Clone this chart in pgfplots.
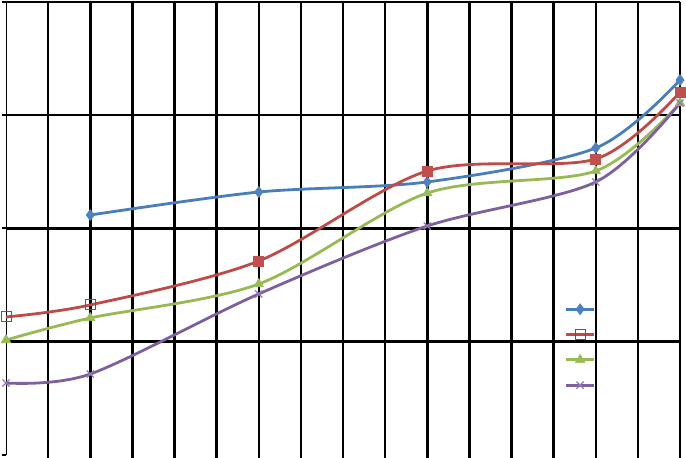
\documentclass[border=0pt]{standalone}
\usepackage{pgfplots}
\pgfplotsset{compat=1.18}

\definecolor{sBlue}{HTML}{4A7EBB}
\definecolor{sBlueF}{HTML}{4F81BD}
\definecolor{sRed}{HTML}{BE4B48}
\definecolor{sRedF}{HTML}{C0504D}
\definecolor{sGreen}{HTML}{98B954}
\definecolor{sGreenF}{HTML}{9BBB59}
\definecolor{sPurple}{HTML}{7D60A0}
\definecolor{sPurpleF}{HTML}{8064A2}

\begin{document}
\begin{tikzpicture}
\useasboundingbox (0,0) rectangle (686bp,458bp);
\begin{axis}[
    at={(6bp,3bp)}, anchor=south west,
    scale only axis,
    width=674bp, height=453bp,
    xmin=0, xmax=16,
    ymin=0, ymax=4,
    xtick={1,...,16},
    ytick={1,2,3,4},
    extra y ticks={0},
    extra tick style={grid=none},
    xticklabels={}, yticklabels={},
    extra y tick labels={},
    grid=major,
    major grid style={black, line width=2.5bp},
    axis lines*=left,
    x axis line style={draw=none},
    y axis line style={black, line width=1bp},
    tick align=outside,
    major tick length=4bp,
    xtick style={black, line width=2.5bp},
    ytick style={black, line width=2bp},
    clip=false,
    every axis plot/.append style={line width=2.8bp, smooth},
    legend image code/.code={%
        \draw[#1, mark repeat=2, mark phase=2]
            plot coordinates {(0bp,0bp)(14bp,0bp)(28bp,0bp)};},
    legend style={draw=none, fill=none, inner sep=0pt, outer sep=0pt,
        at={(0.829,0.238)}, anchor=west, row sep=0pt,
        nodes={minimum height=25.3bp, inner sep=0pt}},
]

% series 1
\addplot[color=sBlue, mark=diamond*, mark size=5.5bp,
    mark options={fill=sBlueF, draw=sBlueF, line width=0.6bp}]
    coordinates {(2,2.119)(6,2.322)(10,2.411)(14,2.711)(16,3.311)};
\addlegendentry{}

% series 2
\addplot[color=sRed, mark=square, mark size=5bp,
    mark options={draw=sRedF!80!black, line width=0.9bp}]
    coordinates {(0,1.219)(2,1.325)(6,1.713)(10,2.508)(14,2.614)(16,3.205)};
\addlegendentry{}

% series 3
\addplot[color=sGreen, mark=triangle*, mark size=5.5bp,
    mark options={fill=sGreenF, draw=sGreenF, line width=0.6bp}]
    coordinates {(0,1.015)(2,1.210)(6,1.510)(10,2.313)(14,2.508)(16,3.108)};
\addlegendentry{}

% series 4
\addplot[color=sPurple, mark=x, mark size=5bp,
    mark options={draw=sPurpleF!85!white, line width=1.2bp}]
    coordinates {(0,0.636)(2,0.715)(6,1.422)(10,2.022)(14,2.411)(16,3.108)};
\addlegendentry{}

% filled squares on series 2
\addplot[forget plot, only marks, mark=square*, mark size=5bp,
    mark options={fill=sRedF, draw=sRedF, line width=0.6bp}]
    coordinates {(6,1.713)(10,2.508)(14,2.614)(16,3.205)};

\end{axis}
\end{tikzpicture}
\end{document}
